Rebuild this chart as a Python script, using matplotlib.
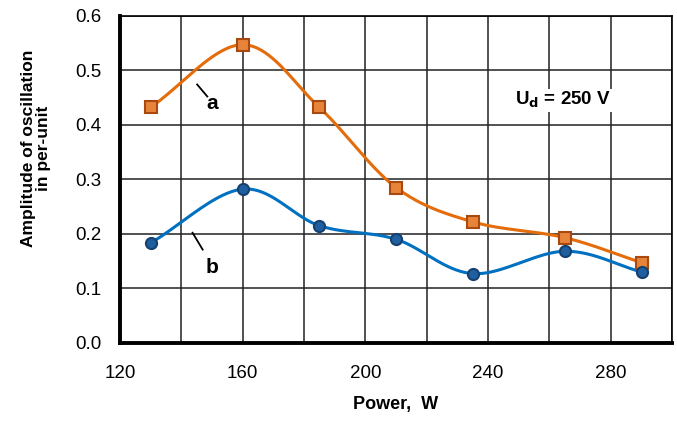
import numpy as np
import matplotlib.pyplot as plt

# Data
power = [130, 160, 185, 210, 235, 265, 290]          # W
amp_a = [0.432, 0.547, 0.432, 0.285, 0.222, 0.193, 0.147]
amp_b = [0.183, 0.282, 0.215, 0.190, 0.127, 0.168, 0.130]
x_ticks = [120, 160, 200, 240, 280]
y_ticks = [0.0, 0.1, 0.2, 0.3, 0.4, 0.5, 0.6]

orange = '#E46C0A'
blue = '#0070C0'


def smooth(x, y, n=40):
    # Catmull-Rom style smoothing like Excel's "smoothed line"
    x = np.asarray(x, float)
    y = np.asarray(y, float)
    px = np.concatenate([[2 * x[0] - x[1]], x, [2 * x[-1] - x[-2]]])
    py = np.concatenate([[2 * y[0] - y[1]], y, [2 * y[-1] - y[-2]]])
    xs, ys = [], []
    t = np.linspace(0, 1, n)
    for i in range(1, len(px) - 2):
        p0, p1, p2, p3 = [np.array([px[j], py[j]]) for j in range(i - 1, i + 3)]
        c1 = p1 + (p2 - p0) / 6
        c2 = p2 - (p3 - p1) / 6
        pts = ((1 - t) ** 3)[:, None] * p1 + (3 * (1 - t) ** 2 * t)[:, None] * c1 \
            + (3 * (1 - t) * t ** 2)[:, None] * c2 + (t ** 3)[:, None] * p2
        xs.extend(pts[:, 0])
        ys.extend(pts[:, 1])
    return xs, ys


plt.rcParams['font.family'] = ['Liberation Sans', 'DejaVu Sans']
fig = plt.figure(figsize=(6.77, 4.28), dpi=100)
ax = fig.add_axes([0.177, 0.199, 0.816, 0.764])

sx, sy = smooth(power, amp_a)
ax.plot(sx, sy, color=orange, lw=2.2, zorder=3)
ax.plot(power, amp_a, 's', ms=9, mfc='#E8833A', mec='#A84A10', mew=1.5, zorder=4)

sx, sy = smooth(power, amp_b)
ax.plot(sx, sy, color=blue, lw=2.2, zorder=3)
ax.plot(power, amp_b, 'o', ms=8, mfc='#1F5FA0', mec='#16406E', mew=1.5, zorder=4)

# curve labels with leader lines
ax.plot([145.2, 148.5], [0.474, 0.452], color='black', lw=1.3, zorder=5)
ax.text(150.2, 0.44, 'a', fontsize=15, fontweight='bold', ha='center', va='center')
ax.plot([143.7, 147.0], [0.202, 0.171], color='black', lw=1.3, zorder=5)
ax.text(150.0, 0.139, 'b', fontsize=15, fontweight='bold', ha='center', va='center')

ax.text(264.5, 0.445, r'U$_\mathbf{d}$ = 250 V', fontsize=13.5, fontweight='bold',
        ha='center', va='center', zorder=5,
        bbox=dict(facecolor='white', edgecolor='none', pad=1))

ax.set_xlim(120, 300)
ax.set_ylim(0, 0.6)
ax.set_xticks(np.arange(120, 301, 20))
ax.set_xticklabels([str(v) if v in x_ticks else '' for v in range(120, 301, 20)])
ax.set_yticks(y_ticks)
ax.set_yticklabels([f'{v:.1f}' for v in y_ticks])
ax.tick_params(length=0, labelsize=13.5)
ax.tick_params(axis='x', pad=16)
ax.tick_params(axis='y', pad=13)
ax.grid(True, color='#222222', lw=1.1)
ax.set_axisbelow(True)

for s in ['top', 'right']:
    ax.spines[s].set_linewidth(1.2)
for s in ['left', 'bottom']:
    ax.spines[s].set_linewidth(2.8)

ax.set_xlabel('Power,  W', fontsize=13, fontweight='bold', labelpad=10)
ax.set_ylabel('Amplitude of oscillation\nin per-unit', fontsize=12.5,
              fontweight='bold', linespacing=1.0)
ax.yaxis.set_label_coords(-0.124, 0.596)

fig.savefig('out.png', dpi=100)
